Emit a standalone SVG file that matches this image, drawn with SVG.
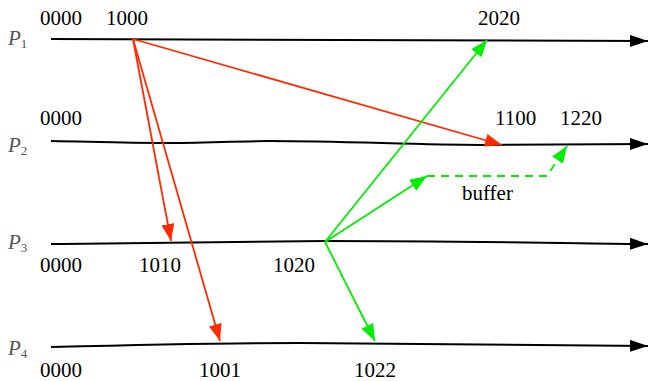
<svg xmlns="http://www.w3.org/2000/svg" width="648" height="381" viewBox="0 0 648 381">
<style>
.t{font-family:'Liberation Serif','Times New Roman',serif;font-size:21px;fill:#000}
.p{font-family:'Liberation Serif','Times New Roman',serif;font-style:italic;font-size:21px;fill:#555}
.s{font-size:13px;font-style:normal}
.line{fill:none;stroke:#000;stroke-width:2;marker-end:url(#ab)}
.red{fill:none;stroke:#ff2a00;stroke-width:1.8;marker-end:url(#ar)}
.grn{fill:none;stroke:#00ee00;stroke-width:1.8;marker-end:url(#ag)}
.dash{stroke-dasharray:8,6}
</style>
<defs>
<marker id="ab" markerUnits="userSpaceOnUse" markerWidth="20" markerHeight="14" refX="18" refY="6" orient="auto"><path d="M0,0 L18,6 L0,12 z" fill="#000"/></marker>
<marker id="ar" markerUnits="userSpaceOnUse" markerWidth="20" markerHeight="14" refX="17" refY="6.5" orient="auto"><path d="M0,0 L17,6.5 L0,13 z" fill="#ff2a00"/></marker>
<marker id="ag" markerUnits="userSpaceOnUse" markerWidth="20" markerHeight="14" refX="17" refY="6.5" orient="auto"><path d="M0,0 L17,6.5 L0,13 z" fill="#00ee00"/></marker>
</defs>
<g id="P1">
<path class="line" d="M51,39 L648,41"/>
<text class="p" x="8" y="45">P<tspan class="s" dy="3">1</tspan></text>
<text class="t" x="40" y="25">0000</text>
<text class="t" x="106" y="25">1000</text>
<text class="t" x="478" y="25">2020</text>
</g>
<g id="P2">
<path class="line" d="M51,141 C100,142 130,143 165,143 C200,143 240,141 270,141 C340,141 420,145 480,145 C540,145 600,144 648,144"/>
<text class="p" x="8" y="152">P<tspan class="s" dy="3">2</tspan></text>
<text class="t" x="40" y="125">0000</text>
<text class="t" x="495" y="125">1100</text>
<text class="t" x="560" y="125">1220</text>
</g>
<g id="P3">
<path class="line" d="M51,244 C150,243 250,241 325,241 C450,241 560,243 648,244"/>
<text class="p" x="8" y="249">P<tspan class="s" dy="3">3</tspan></text>
<text class="t" x="40" y="272">0000</text>
<text class="t" x="139" y="272">1010</text>
<text class="t" x="273" y="272">1020</text>
</g>
<g id="P4">
<path class="line" d="M51,347 C130,345 220,343 300,343 C420,343 540,345 648,346"/>
<text class="p" x="8" y="355">P<tspan class="s" dy="3">4</tspan></text>
<text class="t" x="40" y="377">0000</text>
<text class="t" x="199" y="377">1001</text>
<text class="t" x="354" y="377">1022</text>
</g>
<g id="buffer">
<text class="t" x="462" y="200">buffer</text>
</g>
<g id="connectors">
<path class="red" d="M133,39 L502,145"/>
<path class="red" d="M133,39 L171,241"/>
<path class="red" d="M133,39 L220,341"/>
<path class="grn" d="M325,242 L487,40"/>
<path class="grn" d="M325,242 L427,176"/>
<path class="grn" d="M325,242 L375,341"/>
<path class="grn dash" d="M427,176 L547,176 L567,146"/>
</g>
</svg>
